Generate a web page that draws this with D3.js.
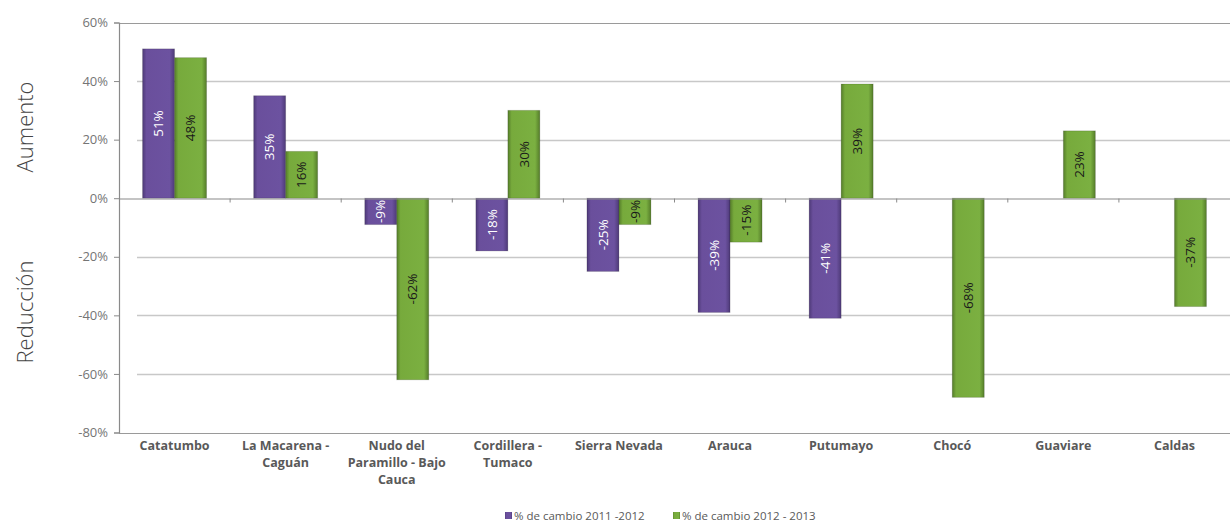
<!DOCTYPE html>
<html>
<head>
<meta charset="utf-8">
<script src="https://cdn.jsdelivr.net/npm/d3@7"></script>
<style>
  body { margin: 0; background: #fff; }
  svg { display: block; }
</style>
</head>
<body>
<svg id="chart" width="1230" height="522"></svg>
<script>
// data
var categories = ["Catatumbo", "La Macarena - Caguán", "Nudo del Paramillo - Bajo Cauca",
    "Cordillera - Tumaco", "Sierra Nevada", "Arauca", "Putumayo", "Chocó", "Guaviare", "Caldas"];
var catLines = [["Catatumbo"], ["La Macarena -", "Caguán"], ["Nudo del", "Paramillo - Bajo", "Cauca"],
    ["Cordillera -", "Tumaco"], ["Sierra Nevada"], ["Arauca"], ["Putumayo"], ["Chocó"], ["Guaviare"], ["Caldas"]];
var change2011_2012 = [51, 35, -9, -18, -25, -39, -41, null, null, null];
var change2012_2013 = [48, 16, -62, 30, -9, -15, 39, -68, 23, -37];
var seriesNames = ["% de cambio 2011 -2012", "% de cambio 2012 - 2013"];
var yTicks = [60, 40, 20, 0, -20, -40, -60, -80];

var svg = d3.select('#chart');
var margin = {left: 119, right: 0, top: 22.5, bottom: 89.5};
var W = 1230, H = 522;

var x = d3.scaleBand().domain(categories).range([margin.left, W - margin.right]).paddingInner(0).paddingOuter(0);
var y = d3.scaleLinear().domain([-80, 60]).range([H - margin.bottom, margin.top]);
var barW = 32;

var defs = svg.append('defs');
function grad(id, dark, mid, light) {
    var g = defs.append('linearGradient').attr('id', id).attr('x1', 0).attr('x2', 1).attr('y1', 0).attr('y2', 0);
    g.append('stop').attr('offset', '0%').attr('stop-color', dark);
    g.append('stop').attr('offset', '12%').attr('stop-color', mid);
    g.append('stop').attr('offset', '85%').attr('stop-color', light);
    g.append('stop').attr('offset', '100%').attr('stop-color', dark);
}
grad('gPurple', '#4e3a78', '#6a4f9c', '#6c52a0');
grad('gGreen', '#557d2a', '#77aa3c', '#7bb041');

// grid lines (the back wall starts a bit right of the axis)
svg.append('g').selectAll('line').data(yTicks.filter(function (d) { return d !== 0 && d !== -80 && d !== 60; }))
    .enter().append('line')
    .attr('x1', 137).attr('x2', W)
    .attr('y1', function (d) { return Math.round(y(d)) + 0.5; })
    .attr('y2', function (d) { return Math.round(y(d)) + 0.5; })
    .attr('stroke', '#c8c8c8').attr('stroke-width', 1.5);

// top and bottom frame lines
[60, -80].forEach(function (v) {
    svg.append('line').attr('x1', margin.left).attr('x2', W)
        .attr('y1', Math.round(y(v)) + 0.5).attr('y2', Math.round(y(v)) + 0.5)
        .attr('stroke', '#9a9a9a').attr('stroke-width', 1.2);
});

// y axis
var yAxis = d3.axisLeft(y).tickValues(yTicks).tickSize(5).tickPadding(6)
    .tickFormat(function (d) { return d + '%'; });
var yg = svg.append('g').attr('transform', 'translate(' + margin.left + ',0)').call(yAxis);
yg.select('.domain').attr('stroke', '#8a8a8a').attr('stroke-width', 1.2);
yg.selectAll('.tick line').attr('stroke', '#8a8a8a');
yg.selectAll('.tick text').attr('fill', '#757575').style('font-family', 'Open Sans').style('font-size', '13px');

// bars
function drawSeries(vals, offset, fill, labelColor) {
    var data = categories.map(function (c, i) { return {cat: c, v: vals[i]}; })
        .filter(function (d) { return d.v !== null; });
    var g = svg.append('g');
    g.selectAll('rect').data(data).enter().append('rect')
        .attr('x', function (d) { return x(d.cat) + x.bandwidth() / 2 + offset; })
        .attr('width', barW)
        .attr('y', function (d) { return Math.min(y(d.v), y(0)); })
        .attr('height', function (d) { return Math.abs(y(d.v) - y(0)); })
        .attr('fill', fill)
        .attr('stroke', 'rgba(0,0,0,0.15)').attr('stroke-width', 1);
    g.selectAll('text').data(data).enter().append('text')
        .attr('transform', function (d) {
            var cx = x(d.cat) + x.bandwidth() / 2 + offset + barW / 2;
            var cy = (y(d.v) + y(0)) / 2;
            return 'translate(' + cx + ',' + cy + ') rotate(-90)';
        })
        .attr('text-anchor', 'middle').attr('dy', '0.35em')
        .attr('fill', labelColor)
        .style('font-family', 'Open Sans').style('font-size', '13.5px')
        .text(function (d) { return d.v + '%'; });
}
drawSeries(change2011_2012, -barW, 'url(#gPurple)', '#ffffff');
drawSeries(change2012_2013, 0, 'url(#gGreen)', '#1a1a1a');

// zero axis with category ticks
var xAxis = d3.axisBottom(x).tickSize(0).tickFormat('');
var xg = svg.append('g').attr('transform', 'translate(0,' + (Math.round(y(0)) + 0.5) + ')').call(xAxis);
xg.select('.domain').attr('stroke', '#8a8a8a').attr('stroke-width', 1.2);
xg.selectAll('.tick').remove();
xg.selectAll('.sep').data(categories.slice(1)).enter().append('line')
    .attr('x1', function (d) { return x(d); }).attr('x2', function (d) { return x(d); })
    .attr('y1', 0).attr('y2', 4).attr('stroke', '#8a8a8a');

// category labels
var cl = svg.append('g').selectAll('text').data(categories).enter().append('text')
    .attr('x', function (d) { return x(d) + x.bandwidth() / 2; })
    .attr('y', y(-80) + 17)
    .attr('text-anchor', 'middle')
    .attr('fill', '#595959')
    .style('font-family', 'Open Sans').style('font-size', '12.5px').style('font-weight', 'bold');
cl.each(function (d, i) {
    var t = d3.select(this);
    catLines[i].forEach(function (ln, j) {
        t.append('tspan').attr('x', x(d) + x.bandwidth() / 2).attr('dy', j === 0 ? 0 : 17).text(ln);
    });
});

// side titles
[['Aumento', 127], ['Reducción', 312]].forEach(function (a) {
    svg.append('text').attr('transform', 'translate(33,' + a[1] + ') rotate(-90)')
        .attr('text-anchor', 'middle')
        .attr('fill', '#444')
        .style('font-family', 'Open Sans').style('font-size', '22px').style('font-weight', 300)
        .text(a[0]);
});

// legend
var legendX = [505, 673];
var legendFill = ['url(#gPurple)', 'url(#gGreen)'];
seriesNames.forEach(function (n, i) {
    svg.append('rect').attr('x', legendX[i]).attr('y', 512).attr('width', 7).attr('height', 7)
        .attr('fill', legendFill[i]);
    svg.append('text').attr('x', legendX[i] + 9).attr('y', 520)
        .attr('fill', '#595959')
        .style('font-family', 'Open Sans').style('font-size', '11.5px')
        .text(n);
});
</script>
</body>
</html>
